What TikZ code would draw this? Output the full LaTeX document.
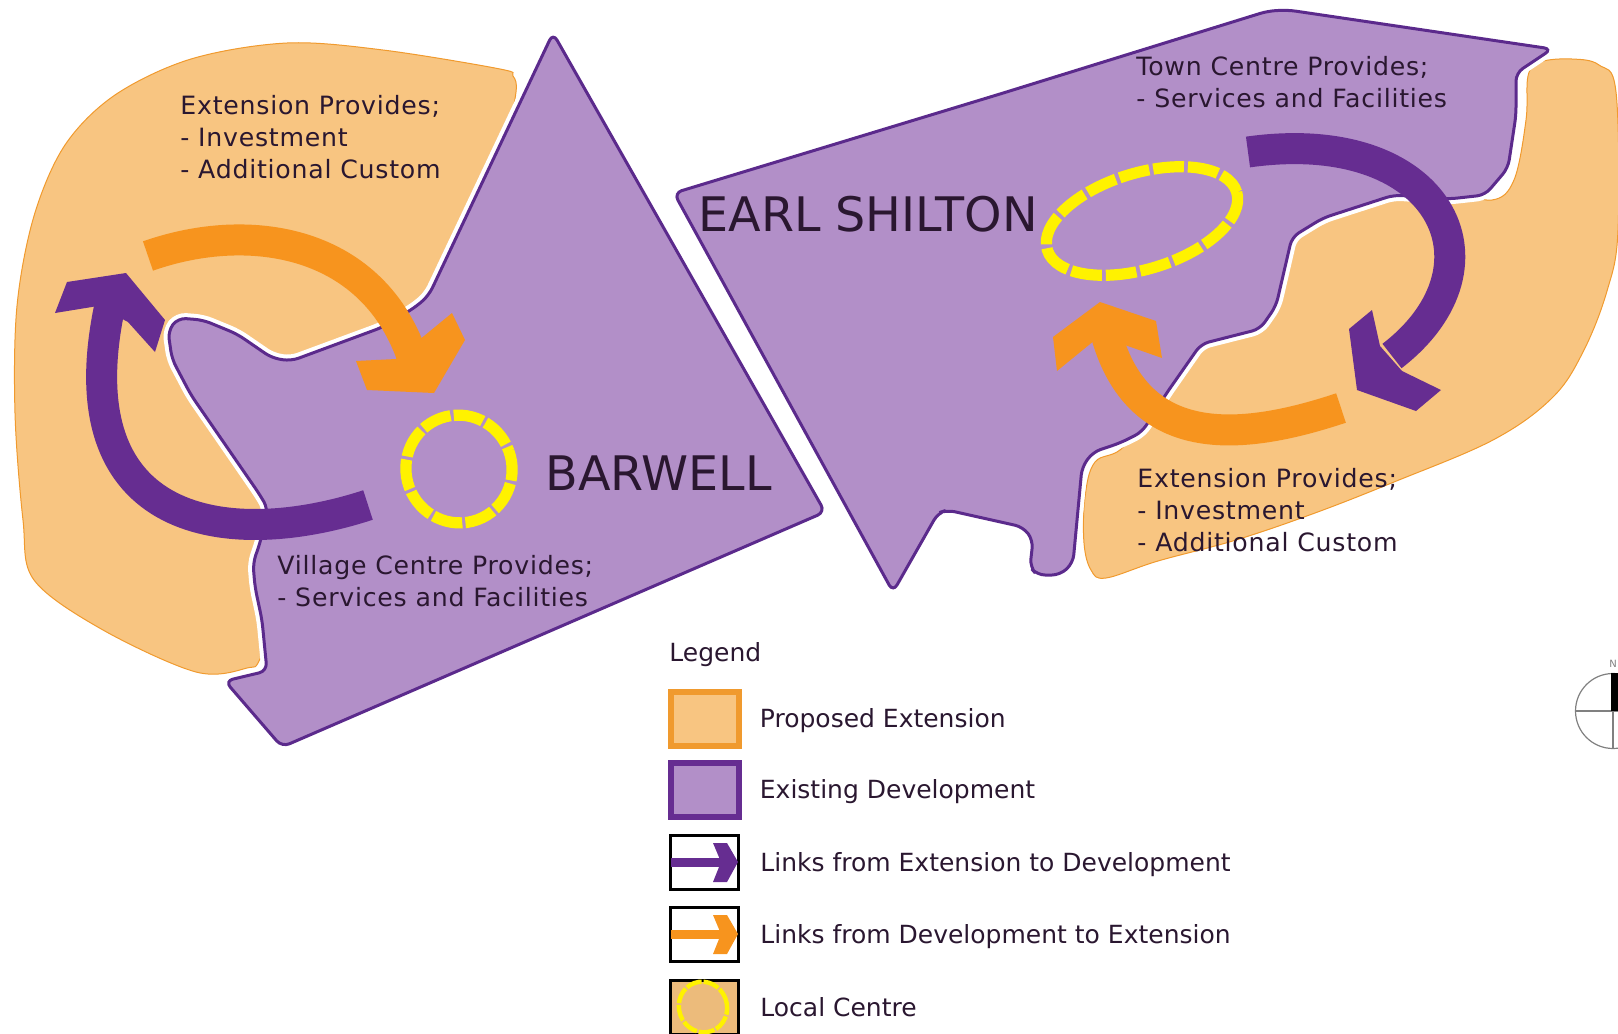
\documentclass[tikz,border=0pt]{standalone}
\usepackage{fontspec}
\setmainfont{DejaVu Sans}
\newfontfamily\notefont[LetterSpace=3]{DejaVu Sans}
\usetikzlibrary{positioning}

\definecolor{extfill}{HTML}{F8C581}
\definecolor{extline}{HTML}{F09A2E}
\definecolor{devfill}{HTML}{B28FC8}
\definecolor{devline}{HTML}{5B2A8C}
\definecolor{linkpurple}{HTML}{662D91}
\definecolor{linkorange}{HTML}{F7941E}
\definecolor{ringyellow}{HTML}{FFF200}
\definecolor{inktext}{HTML}{2A1730}

\tikzset{
    extarea/.style={fill=extfill, draw=extline, line width=.5pt},
    devarea/.style={fill=devfill, draw=devline, line width=1.5pt, rounded corners=4pt,
        preaction={draw=white, line width=5.5pt}},
    linkshaft/.style={line width=15.5pt},
    ring/.style={draw=ringyellow, line width=5.6pt},
    note/.style={align=left, inner sep=0pt, anchor=north west, text=inktext,
        font=\notefont\fontsize{12.6}{16.1}\selectfont},
    placename/.style={inner sep=0pt, anchor=base west, text=inktext,
        font=\fontsize{23.8}{28}\selectfont},
    keybox/.style={minimum width=34pt, minimum height=27pt, inner sep=0pt, outer sep=0pt, line width=1.5pt},
    keytext/.style={inner sep=0pt, yshift=-1pt, text=inktext, font=\fontsize{12.5}{15}\selectfont}
}

\begin{document}
\begin{tikzpicture}[x=.5pt, y=-.5pt]
    \useasboundingbox (0,0) rectangle (1618,1034);
    \clip (0,0) rectangle (1618,1034);

    % extensions
    \draw[extarea] plot[smooth cycle, tension=.55] coordinates {
        (500,69) (383,50) (287,43) (191,59) (115,95) (65,145) (34,216) (17,306)
        (15,413) (23,520) (34,580) (103,630) (196,672) (247,668) (262,655)
        (300,560) (340,420) (420,340) (470,240) (505,140) (516,92) (513,76)};
    \draw[extarea] plot[smooth cycle, tension=.6] coordinates {
        (1528,76) (1540,62) (1572,59) (1599,65) (1616,92) (1618,230) (1607,291) (1583,352)
        (1552,398) (1493,440) (1394,482) (1315,513) (1236,540) (1158,561) (1106,578)
        (1091,570) (1084,543) (1085,497) (1095,462) (1125,445) (1160,380) (1195,335)
        (1255,315) (1270,300) (1285,230) (1320,205) (1394,185) (1449,190) (1492,200)
        (1514,180) (1526,120)};

    % existing development
    \draw[devarea] (553,33) -- (825,512) -- (282,747) -- (225,681) -- (267,671) -- (262,620)
        -- (255,587) -- (253,563) -- (260,543) -- (268,509) -- (260,495) -- (191,395)
        -- (172,359) -- (168,331) -- (178,318) -- (203,320) -- (237,334) -- (272,358)
        -- (291,361) -- (383,327) -- (417,306) -- (429,295) -- cycle;
    \draw[devarea] (674,193) -- (1000,94) -- (1268,11) -- (1288,10) -- (1552,49) -- (1516,73)
        -- (1516,115) -- (1508,168) -- (1485,195) -- (1449,199) -- (1394,195) -- (1323,218)
        -- (1292,237) -- (1276,306) -- (1260,329) -- (1201,344) -- (1166,394) -- (1142,432)
        -- (1120,443) -- (1093,452) -- (1082,467) -- (1073,563) -- (1060,575) -- (1037,575)
        -- (1030,567) -- (1033,540) -- (1023,527) -- (947,510) -- (938,513) -- (893,592) -- cycle;

    % local centres
    \draw[ring, dash pattern=on 15pt off 1.6pt, rotate around={20:(459,469)}]
        (459,469) ellipse [x radius=53, y radius=54];
    \draw[ring, dash pattern=on 15.4pt off 2pt, rotate around={17:(1142,221)}]
        (1142,221) ellipse [x radius=99, y radius=48];

    % links
    \draw[linkshaft, linkorange] (148,256) .. controls (250,220) and (375,240) .. (414,362);
    \fill[linkorange] (452,313) -- (465,340) -- (434,393) -- (367,390) -- (356,361) -- (396,359) -- cycle;
    \draw[linkshaft, linkpurple] (368,505) .. controls (230,550) and (62,530) .. (110,305);
    \fill[linkpurple] (55,313) -- (67,282) -- (126,273) -- (165,320) -- (155,352) -- (128,322) -- (98,306) -- cycle;
    \draw[linkshaft, linkpurple] (1248,152) .. controls (1440,125) and (1510,265) .. (1392,356);
    \fill[linkpurple] (1372,310) -- (1349,329) -- (1357,390) -- (1416,411) -- (1441,390) -- (1402,371) -- (1380,346) -- cycle;
    \draw[linkshaft, linkorange] (1341,408) .. controls (1230,445) and (1135,445) .. (1105,330);
    \fill[linkorange] (1053,337) -- (1057,371) -- (1095,340) -- (1122,344) -- (1162,358) -- (1156,321) -- (1100,302) -- cycle;

    % labels
    \node[note] (extwest) at (180,95) {Extension Provides;\\- Investment\\- Additional Custom};
    \node[note] (village) at (277,555) {Village Centre Provides;\\- Services and Facilities};
    \node[note] (town) at (1136,56) {Town Centre Provides;\\- Services and Facilities};
    \node[note] (exteast) at (1137,468) {Extension Provides;\\- Investment\\- Additional Custom};
    \node[placename] (barwell) at (545,490) {BARWELL};
    \node[placename] (earl) at (698,231) {EARL SHILTON};

    % legend
    \node[keytext, anchor=west] (legend) at (669,653) {Legend};
    \node[keybox, draw=extline, line width=3pt, fill=extfill] (keyext) at (704.5,718.5) {};
    \node[keybox, draw=linkpurple, line width=3pt, fill=devfill] (keydev) at (704.5,790) {};
    \node[keybox, draw=black] (keytodev) at (704,862.5) {};
    \node[keybox, draw=black] (keytoext) at (704,934.5) {};
    \node[keybox, draw=black, fill=extfill!95!black] (keycentre) at (704,1007) {};
    \node[keytext, right=10.5pt of keyext] (txtext) {Proposed Extension};
    \node[keytext, right=10.5pt of keydev] (txtdev) {Existing Development};
    \node[keytext, right=11pt of keytodev] (txttodev) {Links from Extension to Development};
    \node[keytext, right=11pt of keytoext] (txttoext) {Links from Development to Extension};
    \node[keytext, yshift=1pt, right=11pt of keycentre] (txtcentre) {Local Centre};

    \draw[line width=4.5pt, linkpurple] (671,862) -- (725,862);
    \fill[linkpurple] (713,843) -- (727,843) -- (738,862) -- (727,882) -- (713,882) -- (721,862) -- cycle;
    \draw[line width=4.5pt, linkorange] (671,934) -- (725,934);
    \fill[linkorange] (713,915) -- (727,915) -- (738,934) -- (727,954) -- (713,954) -- (721,934) -- cycle;
    \draw[ringyellow, line width=2.2pt, dash pattern=on 8pt off 1pt, rotate around={20:(703,1007)}]
        (703,1007) ellipse [x radius=24, y radius=25.5];

    % north point
    \draw[gray, line width=.6pt] (1613,711) circle [radius=37.5];
    \draw[gray, line width=.6pt] (1576,711) -- (1618,711);
    \draw[gray, line width=.6pt] (1613,673) -- (1613,749);
    \fill[black] (1611,673) rectangle (1618,711);
    \node[inner sep=0pt, text=gray, font=\fontsize{5}{6}\selectfont] (north) at (1613,664) {N};
\end{tikzpicture}
\end{document}
